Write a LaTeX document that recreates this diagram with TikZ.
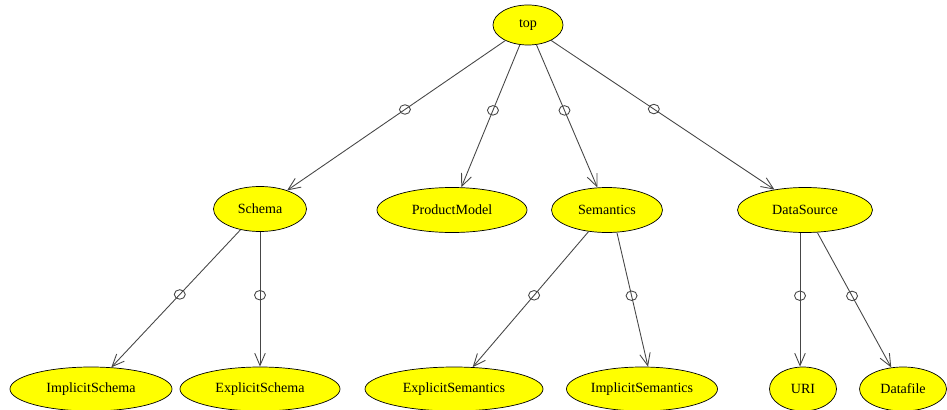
\documentclass[tikz,border=0pt]{standalone}
\usepackage{fontspec}
\setmainfont{Liberation Serif}
\usepackage{tikz}
\usetikzlibrary{arrows.meta,shapes.geometric}
\definecolor{nodeyellow}{RGB}{255,255,0}
\definecolor{edgegray}{RGB}{70,70,70}

\begin{document}
\begin{tikzpicture}[
    cls/.style={ellipse,draw,fill=nodeyellow,inner sep=0pt,minimum height=0.9cm,font=\fontsize{8}{9}\selectfont},
    rel/.style={-{Straight Barb[length=7pt,width=6pt]},edgegray,line width=0.5pt},
    ring/.style={ellipse,draw,edgegray,inner sep=0pt,minimum width=0.22cm,minimum height=0.19cm,line width=0.5pt}]
    \useasboundingbox (0,0) rectangle (18.94,-8.2);

    \node[cls,minimum width=1.4cm,minimum height=0.8cm] (top) at (10.56,-0.5) {top};

    \node[cls,minimum width=1.86cm] (schema) at (5.2,-4.18) {Schema};
    \node[cls,minimum width=3.0cm] (product) at (9.04,-4.2) {ProductModel};
    \node[cls,minimum width=2.22cm] (sem) at (12.14,-4.2) {Semantics};
    \node[cls,minimum width=2.7cm] (source) at (16.1,-4.2) {DataSource};

    \node[cls,minimum width=3.24cm,minimum height=0.88cm] (impschema) at (1.82,-7.78) {ImplicitSchema};
    \node[cls,minimum width=3.2cm,minimum height=0.88cm] (expschema) at (5.2,-7.78) {ExplicitSchema};
    \node[cls,minimum width=3.56cm,minimum height=0.88cm] (expsem) at (9.08,-7.78) {ExplicitSemantics};
    \node[cls,minimum width=3.02cm,minimum height=0.88cm] (impsem) at (12.84,-7.78) {ImplicitSemantics};
    \node[cls,minimum width=1.34cm,minimum height=0.88cm] (uri) at (16.06,-7.78) {URI};
    \node[cls,minimum width=1.74cm,minimum height=0.88cm] (datafile) at (18.06,-7.78) {Datafile};

    \draw[rel] (top) -- node[ring,pos=0.46] {} (schema);
    \draw[rel] (top) -- node[ring,pos=0.46] {} (product);
    \draw[rel] (top) -- node[ring,pos=0.46] {} (sem);
    \draw[rel] (top) -- node[ring,pos=0.46] {} (source);

    \draw[rel] (schema) -- node[ring,pos=0.47] {} (impschema);
    \draw[rel] (schema) -- node[ring,pos=0.47] {} (expschema);
    \draw[rel] (sem) -- node[ring,pos=0.47] {} (expsem);
    \draw[rel] ([xshift=0.2cm]sem.south) -- node[ring,pos=0.47] {} ([xshift=0.12cm]impsem.north);
    \draw[rel] ([xshift=-0.1cm]source.south) -- node[ring,pos=0.47] {} ([xshift=-0.06cm]uri.north);
    \draw[rel] (source) -- node[ring,pos=0.47] {} (datafile);
\end{tikzpicture}
\end{document}
